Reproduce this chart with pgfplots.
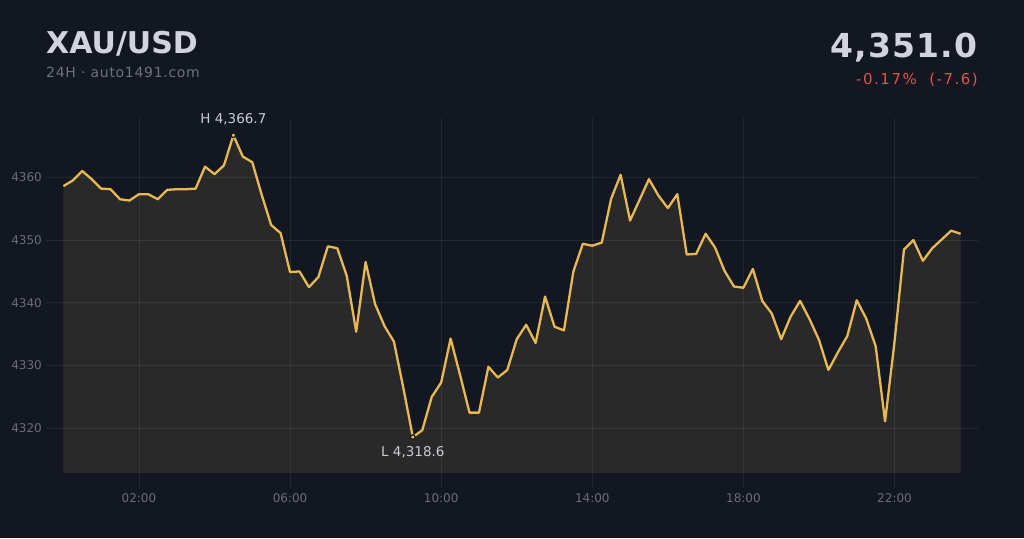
\documentclass[border=0pt]{standalone}
\usepackage{fontspec}
\setmainfont{DejaVu Sans}
\usepackage{pgfplots}
\pgfplotsset{compat=1.18}
\usepackage{pgfplotstable}
\usepgfplotslibrary{fillbetween}
\definecolor{bg}{HTML}{131722}
\definecolor{gold}{HTML}{E8B94F}
\definecolor{areac}{HTML}{29292A}
\definecolor{titlec}{HTML}{D1D4DC}
\definecolor{subc}{HTML}{6E717B}
\definecolor{redc}{HTML}{E0524A}
\definecolor{tickc}{HTML}{6A6D78}
\definecolor{hlc}{HTML}{C9CCD4}
\pgfplotstableread{
i v
0 4358.6
1 4359.5
2 4361.0
3 4359.7
4 4358.2
5 4358.1
6 4356.5
7 4356.3
8 4357.3
9 4357.3
10 4356.5
11 4358.0
12 4358.1
13 4358.1
14 4358.2
15 4361.7
16 4360.5
17 4361.9
18 4366.7
19 4363.3
20 4362.4
21 4357.2
22 4352.4
23 4351.1
24 4344.9
25 4345.0
26 4342.5
27 4344.1
28 4349.0
29 4348.7
30 4344.3
31 4335.4
32 4346.5
33 4339.8
34 4336.3
35 4333.8
36 4326.4
37 4318.6
38 4319.7
39 4325.0
40 4327.3
41 4334.3
42 4328.5
43 4322.5
44 4322.5
45 4329.8
46 4328.1
47 4329.3
48 4334.2
49 4336.5
50 4333.6
51 4341.0
52 4336.2
53 4335.6
54 4345.0
55 4349.4
56 4349.1
57 4349.6
58 4356.6
59 4360.4
60 4353.1
61 4356.4
62 4359.7
63 4357.1
64 4355.1
65 4357.3
66 4347.7
67 4347.8
68 4351.0
69 4348.8
70 4345.1
71 4342.6
72 4342.4
73 4345.4
74 4340.3
75 4338.3
76 4334.2
77 4337.8
78 4340.3
79 4337.4
80 4334.1
81 4329.3
82 4332.1
83 4334.7
84 4340.4
85 4337.5
86 4333.1
87 4321.1
88 4333.8
89 4348.5
90 4350.0
91 4346.7
92 4348.7
93 4350.1
94 4351.5
95 4351.0
}\pricedata
\begin{document}
\begin{tikzpicture}
\fill[bg] (0pt,0pt) rectangle (1024pt,538pt);
\begin{axis}[
  at={(46pt,50pt)}, anchor=south west,
  scale only axis, width=932pt, height=370pt,
  xmin=-1.84, xmax=96.84, ymin=4310.49, ymax=4369.45,
  axis line style={draw=none},
  major tick length=0pt,
  xtick={8,24,40,56,72,88},
  xticklabels={02:00,06:00,10:00,14:00,18:00,22:00},
  ytick={4320,4330,4340,4350,4360},
  grid=major,
  major grid style={white, opacity=0.07, line width=0.8pt},
  axis on top,
  tick label style={font=\fontsize{12}{14}\selectfont, color=tickc},
  /pgf/number format/assume math mode=true,
  yticklabel style={/pgf/number format/1000 sep={}, anchor=east, inner sep=0pt, xshift=-4pt},
  xticklabel style={anchor=north, inner sep=0pt, yshift=-5.5pt},
  clip=false,
]
\addplot[name path=base, draw=none, forget plot] coordinates {(0,4312.92) (95,4312.92)};
\addplot[name path=price, draw=none, forget plot] table[x=i,y=v] {\pricedata};
\addplot[fill=areac, draw=none, forget plot] fill between[of=price and base, on layer={}];
\addplot[draw=gold, line width=2.3pt, line join=round, mark=none] table[x=i,y=v] {\pricedata};
\addplot[only marks, mark=*, mark size=2.3pt, mark options={fill=gold, draw=bg, line width=1.2pt}] coordinates {(18,4366.7) (37,4318.6)};
\node[anchor=base, inner sep=0pt, yshift=11.3pt, text=hlc, font=\fontsize{13.5}{15}\selectfont] at (axis cs:18,4366.7) {H 4,366.7};
\node[anchor=base, inner sep=0pt, yshift=-19pt, text=hlc, font=\fontsize{13.5}{15}\selectfont] at (axis cs:37,4318.6) {L 4,318.6};
\end{axis}
\node[anchor=base west, inner sep=0pt, text=titlec] at (46pt,484.7pt) {\fontsize{30}{36}\selectfont\bfseries XAU/USD};
\node[anchor=base west, inner sep=0pt, text=subc] at (46pt,460.7pt) {\fontsize{14}{16}\selectfont\addfontfeatures{LetterSpace=5}24H · auto1491.com};
\node[anchor=base east, inner sep=0pt, text=titlec] at (978pt,480.7pt) {\fontsize{33}{38}\selectfont\bfseries\addfontfeatures{LetterSpace=4}4,351.0};
\node[anchor=base east, inner sep=0pt, text=redc] at (978pt,453pt) {\fontsize{15}{17}\selectfont\addfontfeatures{LetterSpace=10}-0.17\%\ \ (-7.6)};
\end{tikzpicture}
\end{document}
